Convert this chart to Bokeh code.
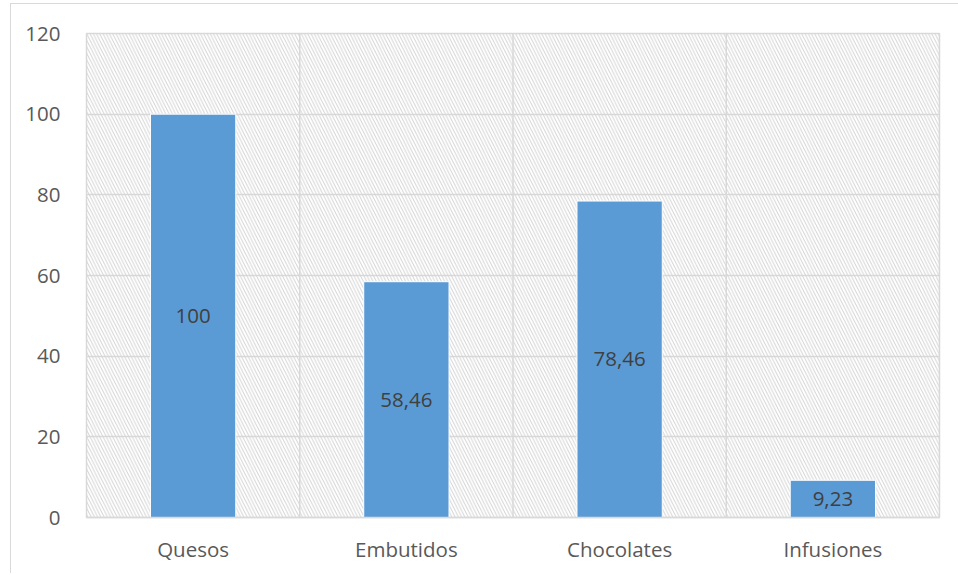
from bokeh.plotting import figure
from bokeh.models import Range1d, FactorRange, Span, BoxAnnotation, ColumnDataSource, FixedTicker
from bokeh.core.properties import value
from bokeh.embed import file_html
from bokeh.resources import INLINE

categories = ["Quesos", "Embutidos", "Chocolates", "Infusiones"]
values = [100, 58.46, 78.46, 9.23]
y_ticks = [0, 20, 40, 60, 80, 100, 120]

FONT = "Open Sans"
GRID = "#d9d9d9"
TEXT = "#595959"
BAR = "#5b9bd5"

labels = [f"{v:g}".replace(".", ",") for v in values]
src = ColumnDataSource(dict(cat=categories, val=values, mid=[v / 2 for v in values], lab=labels))

# figure offset inside the page so its top/left border forms the chart frame
p = figure(
    width=948, height=570,
    x_range=FactorRange(factors=categories, range_padding=0),
    y_range=Range1d(0, 120),
    output_backend="svg", toolbar_location=None,
    min_border_left=75, min_border_right=20, min_border_top=29, min_border_bottom=57,
)
p.styles = {"margin-left": "10px", "margin-top": "3px",
            "border-left": "1.5px solid #d9d9d9", "border-top": "1.5px solid #d9d9d9"}
p.background_fill_color = "white"
p.border_fill_color = "white"
p.outline_line_color = GRID
p.outline_line_width = 1.5

# hatched plot area
p.add_layout(BoxAnnotation(fill_alpha=0, line_color=None, hatch_pattern="\\",
                           hatch_color="#d4d4d4", hatch_scale=6.5, hatch_weight=1,
                           level="underlay"))

# category boundary lines
for b in [1, 2, 3]:
    p.add_layout(Span(location=b, dimension="height", line_color=GRID, line_width=1.5, level="underlay"))

p.vbar(x="cat", top="val", width=0.4, source=src, fill_color=BAR, line_color="white", line_width=1)
p.text(x="cat", y="mid", text="lab", source=src, text_align="center", text_baseline="middle",
       text_font=value(FONT), text_font_size="20.5px", text_color="#404040")

p.xgrid.grid_line_color = None
p.ygrid.grid_line_color = GRID
p.ygrid.grid_line_width = 1.5

p.yaxis.ticker = FixedTicker(ticks=y_ticks)
p.yaxis.axis_line_color = None
p.yaxis.major_tick_line_color = None
p.yaxis.minor_tick_line_color = None
p.yaxis.major_label_standoff = 20
p.xaxis.axis_line_color = GRID
p.xaxis.axis_line_width = 1.5
p.xaxis.major_tick_line_color = None
p.xaxis.major_label_standoff = 11
for ax in (p.xaxis, p.yaxis):
    ax.major_label_text_font = FONT
    ax.major_label_text_font_size = "20.5px"
    ax.major_label_text_color = TEXT

open("out.html", "w").write(file_html(p, INLINE))
